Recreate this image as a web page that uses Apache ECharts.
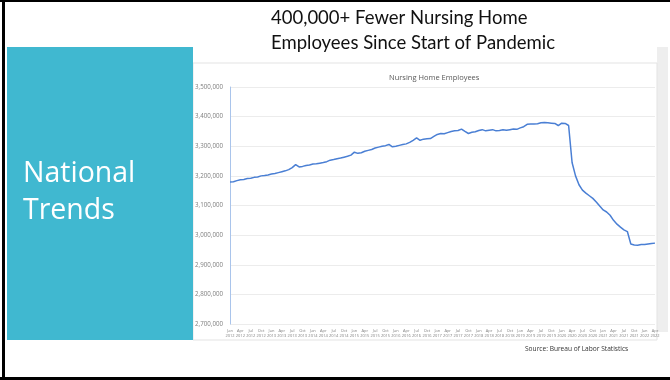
<!DOCTYPE html>
<html>
<head>
<meta charset="utf-8">
<script src="https://cdn.jsdelivr.net/npm/echarts@6/dist/echarts.min.js"></script>
<style>
html,body{margin:0;padding:0;background:#fff;}
#c{width:670px;height:380px;}
</style>
</head>
<body>
<div id="c"></div>
<script>
// Data: monthly nursing home employees, Jan 2012 .. Apr 2022
var monthNames = ['Jan','Feb','Mar','Apr','May','Jun','Jul','Aug','Sep','Oct','Nov','Dec'];
var years = [2012,2013,2014,2015,2016,2017,2018,2019,2020,2021,2022];
var employees = [
  3179,3180,3184,3187,3188,3191,3192,3195,3196,3200,3201,3203,
  3206,3208,3211,3214,3217,3221,3228,3238,3230,3232,3235,3237,
  3240,3241,3243,3245,3248,3253,3255,3258,3260,3263,3266,3270,
  3280,3276,3278,3283,3286,3289,3294,3297,3300,3302,3306,3298,
  3300,3303,3306,3308,3313,3320,3328,3320,3324,3325,3326,3333,
  3340,3343,3342,3346,3350,3352,3353,3358,3350,3343,3347,3349,
  3353,3356,3352,3354,3356,3352,3353,3356,3354,3356,3358,3357,
  3362,3366,3374,3375,3375,3376,3379,3380,3379,3378,3377,3370,
  3378,3377,3370,3245,3200,3170,3152,3142,3133,3124,3112,3098,
  3085,3078,3067,3050,3037,3027,3018,3012,2970,2967,2966,2968,
  2968,2970,2972,2973
].map(function(v){return v*1000;});
var yTicks = [2700000,2800000,2900000,3000000,3100000,3200000,3300000,3400000,3500000];
var slideTitle = ['400,000+ Fewer Nursing Home','Employees Since Start of Pandemic'];
var chartTitle = 'Nursing Home Employees';
var sideText = 'National\nTrends';
var sourceText = 'Source: Bureau of Labor Statistics';

var categories = [];
for (var i = 0; i < employees.length; i++) {
  categories.push(monthNames[i % 12] + ' ' + years[Math.floor(i / 12)]);
}

var chart = echarts.init(document.getElementById('c'), null, {renderer:'canvas'});
chart.setOption({
  animation:false,
  backgroundColor:'#ffffff',
  title:{
    text:chartTitle, left:384, top:69,
    textStyle:{fontFamily:'Open Sans', fontSize:7.5, fontWeight:'normal', color:'#595959'}
  },
  grid:{left:230, right:15, top:87, bottom:56, containLabel:false},
  xAxis:{
    type:'category', data:categories, boundaryGap:false,
    axisLine:{show:false}, axisTick:{show:false}, splitLine:{show:false},
    axisLabel:{
      interval:2, margin:4, fontSize:4, lineHeight:5, color:'#7f7f7f', fontFamily:'Open Sans',
      formatter:function(v){return v.replace(' ', '\n');}
    }
  },
  yAxis:{
    type:'value', min:yTicks[0], max:yTicks[yTicks.length-1], interval:100000,
    axisLine:{show:true, lineStyle:{color:'#a9c4eb', width:1}},
    axisTick:{show:false},
    splitLine:{lineStyle:{color:'#ececec', width:1}},
    axisLabel:{
      margin:7, fontSize:6.2, color:'#7f7f7f', fontFamily:'Open Sans',
      formatter:function(v){return v.toLocaleString('en-US');}
    }
  },
  series:[{
    type:'line', data:employees, showSymbol:false,
    lineStyle:{color:'#4a7fd4', width:1.5}
  }],
  graphic:[
    {type:'rect', z:-10, shape:{x:657, y:47, width:11, height:285}, style:{fill:'#eeeeee'}},
    {type:'rect', z:-5, shape:{x:193, y:63, width:464, height:277}, style:{fill:'#ffffff', stroke:'#e3e3e3', lineWidth:1}},
    {type:'rect', shape:{x:7, y:47, width:186, height:293}, style:{fill:'#40b8d0'}},
    {type:'text', left:23, top:155, style:{text:sideText, fill:'#ffffff', font:'28.5px "Open Sans"', lineHeight:37}},
    {type:'text', left:271, top:6, style:{text:slideTitle.join('\n'), fill:'#111111', font:'18.5px Lato', lineHeight:25}},
    {type:'text', left:525, top:346, style:{text:sourceText, fill:'#333333', font:'6.6px "Open Sans"'}},
    {type:'rect', shape:{x:0, y:0, width:670, height:2}, style:{fill:'#000000'}},
    {type:'rect', shape:{x:2, y:0, width:3, height:380}, style:{fill:'#000000'}},
    {type:'rect', shape:{x:0, y:377, width:670, height:3}, style:{fill:'#000000'}}
  ]
});
</script>
</body>
</html>
